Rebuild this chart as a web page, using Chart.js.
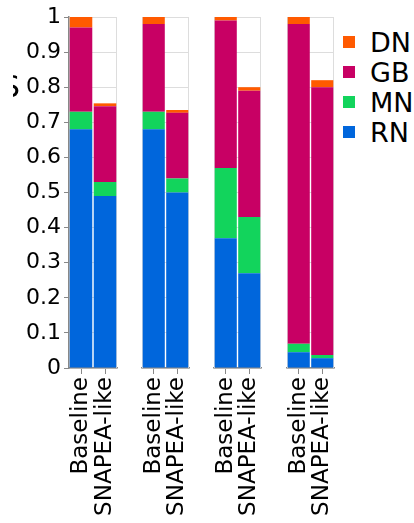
<!DOCTYPE html>
<html>
<head>
<meta charset="utf-8">
<script src="https://cdn.jsdelivr.net/npm/chart.js@4"></script>
<style>
    body { margin: 0; background: #fff; }
    #wrap { position: relative; width: 414px; height: 523px; overflow: hidden; font-family: "DejaVu Sans"; }
    #wrap canvas { position: absolute; top: 0; }
    #legend { position: absolute; left: 343px; top: 27px; }
    .item { height: 30px; display: flex; align-items: center; font-size: 27px; color: #000; }
    .sw { width: 12px; height: 12px; margin-right: 15px; }
</style>
</head>
<body>
<div id="wrap">
    <canvas id="c0" width="130" height="523" style="left:0"></canvas>
    <canvas id="c1" width="61" height="523" style="left:136px"></canvas>
    <canvas id="c2" width="61" height="523" style="left:208px"></canvas>
    <canvas id="c3" width="61" height="523" style="left:281px"></canvas>
    <div id="legend"></div>
</div>
<script>
// facets and bars inside each facet
const groups = ["G1", "G2", "G3", "G4"]
const variants = ["Baseline", "SNAPEA-like"]

// stacked segments, two values per group (Baseline, SNAPEA-like)
const rnValues = [0.68, 0.49, 0.68, 0.50, 0.37, 0.27, 0.045, 0.028]
const mnValues = [0.05, 0.04, 0.05, 0.04, 0.20, 0.16, 0.024, 0.009]
const gbValues = [0.24, 0.216, 0.25, 0.187, 0.42, 0.36, 0.911, 0.763]
const dnValues = [0.03, 0.008, 0.02, 0.008, 0.01, 0.01, 0.02, 0.02]

const yTicks = [0, 0.1, 0.2, 0.3, 0.4, 0.5, 0.6, 0.7, 0.8, 0.9, 1]

// bottom to top
const series = [
    { name: "RN", values: rnValues, color: "#0066dc" },
    { name: "MN", values: mnValues, color: "#12d45c" },
    { name: "GB", values: gbValues, color: "#c80064" },
    { name: "DN", values: dnValues, color: "#ff5a00" },
]

Chart.defaults.font.family = "DejaVu Sans"
Chart.defaults.color = "#000"

// light frame on top/right (and left for the facets without axis)
const frame = {
    id: "frame",
    beforeDatasetsDraw(chart, args, opts) {
        const a = chart.chartArea
        const ctx = chart.ctx
        ctx.save()
        ctx.strokeStyle = "#ddd"
        ctx.lineWidth = 1
        ctx.beginPath()
        ctx.moveTo(a.left + 0.5, a.top + 0.5)
        ctx.lineTo(a.right - 0.5, a.top + 0.5)
        ctx.lineTo(a.right - 0.5, a.bottom)
        if (!opts.axis) {
            ctx.moveTo(a.left + 0.5, a.top + 0.5)
            ctx.lineTo(a.left + 0.5, a.bottom)
        }
        ctx.stroke()
        if (opts.axis) {
            // clipped axis title peeking in at the left
            ctx.beginPath()
            ctx.rect(13, 60, 10, 50)
            ctx.clip()
            ctx.fillStyle = "#000"
            ctx.font = "30px 'DejaVu Sans'"
            ctx.textBaseline = "alphabetic"
            ctx.fillText("S", 1, 97)
        }
        ctx.restore()
    },
}

groups.forEach((g, gi) => {
    const first = gi === 0
    const canvas = document.getElementById("c" + gi)
    new Chart(canvas, {
        type: "bar",
        data: {
            labels: variants,
            datasets: series.map((s) => ({
                label: s.name,
                data: s.values.slice(gi * 2, gi * 2 + 2),
                backgroundColor: s.color,
                borderWidth: 0,
                barPercentage: 0.94,
                categoryPercentage: 1,
            })),
        },
        options: {
            responsive: false,
            animation: false,
            layout: { padding: { top: 17, left: first ? 0 : 6, right: first ? 13 : 8, bottom: 0 } },
            scales: {
                x: {
                    stacked: true,
                    grid: { display: true, drawOnChartArea: false, offset: false, tickLength: 6, tickColor: "#888" },
                    border: { color: "#888", width: 1.5 },
                    ticks: { minRotation: 90, maxRotation: 90, autoSkip: false, padding: 3, font: { size: 23 } },
                    afterFit: (s) => {
                        s.height = 155
                        s.paddingLeft = 0
                        s.paddingRight = 0
                    },
                },
                y: {
                    stacked: true,
                    min: 0,
                    max: 1,
                    afterBuildTicks: (s) => { s.ticks = yTicks.map((v) => ({ value: v })) },
                    grid: { color: "#ddd", drawTicks: first, tickLength: 5, tickColor: "#888" },
                    border: { display: first, color: "#888", width: 1.5 },
                    ticks: {
                        display: first,
                        padding: 3,
                        font: { size: 22 },
                        callback: (v) => String(+v.toFixed(1)),
                    },
                    afterFit: (s) => {
                        s.width = first ? 69 : 0
                        s.paddingTop = 0
                        s.paddingBottom = 0
                    },
                },
            },
            plugins: {
                legend: { display: false },
                tooltip: { enabled: false },
                frame: { axis: first },
            },
        },
        plugins: [frame],
    })
})

// legend, top to bottom
const legend = document.getElementById("legend")
series.slice().reverse().forEach((s) => {
    const row = document.createElement("div")
    row.className = "item"
    const sw = document.createElement("span")
    sw.className = "sw"
    sw.style.background = s.color
    row.appendChild(sw)
    row.appendChild(document.createTextNode(s.name))
    legend.appendChild(row)
})
</script>
</body>
</html>
